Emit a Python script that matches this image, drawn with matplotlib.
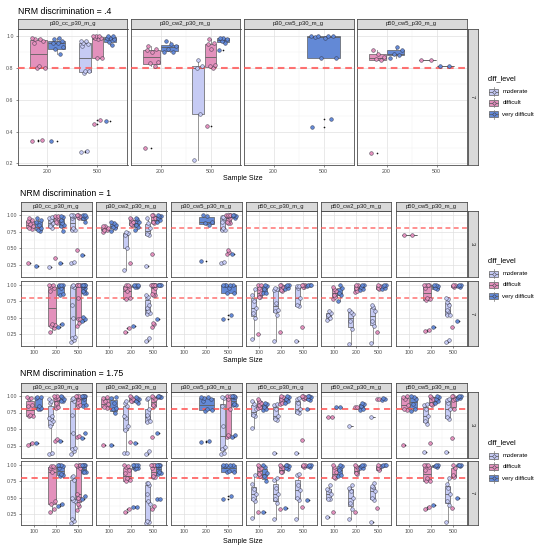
import numpy as np
import matplotlib
matplotlib.use("Agg")
import matplotlib.pyplot as plt
from matplotlib.patches import Rectangle

plt.rcParams['font.family'] = ['Liberation Sans', 'DejaVu Sans']

W, H = 538, 550

# ---------------- data ----------------
levels = ["moderate", "difficult", "very difficult"]
level_colors = {"moderate": "#C6CBF4", "difficult": "#E391BC", "very difficult": "#6389D6"}

sizes_s1 = ["200", "500"]
sizes_s23 = ["100", "200", "500"]
columns_s1 = ["p30_cc_p30_m_g", "p30_cw2_p30_m_g", "p30_cw5_p30_m_g", "p50_cw5_p30_m_g"]
columns_s23 = ["p30_cc_p30_m_g", "p30_cw2_p30_m_g", "p30_cw5_p30_m_g",
               "p50_cc_p30_m_g", "p50_cw2_p30_m_g", "p50_cw5_p30_m_g"]
rows_s1 = ["7"]
rows_s23 = ["3", "7"]
titles = ["NRM discrimination = .4", "NRM discrimination = 1", "NRM discrimination = 1.75"]
threshold = 0.8

# NRM discrimination = .4, row 7 (values per level, per sample size)
d04_r7_p30_cc = {
    "moderate": [[], [0.27, 0.28, 0.77, 0.78, 0.78, 0.94, 0.95, 0.96, 0.97, 0.97]],
    "difficult": [[0.34, 0.35, 0.80, 0.80, 0.81, 0.96, 0.97, 0.98, 0.98, 0.99],
                  [0.445, 0.475, 0.86, 0.86, 0.98, 0.99, 0.99, 1.0, 1.0, 1.0]],
    "very difficult": [[0.34, 0.89, 0.92, 0.93, 0.96, 0.96, 0.97, 0.98, 0.99],
                       [0.465, 0.947, 0.965, 0.98, 0.99, 0.99, 1.0, 1.0]],
}
d04_r7_p30_cw2 = {
    "moderate": [[], [0.22, 0.51, 0.80, 0.81, 0.85]],
    "difficult": [[0.30, 0.81, 0.83, 0.84, 0.90, 0.91, 0.92, 0.94],
                  [0.435, 0.80, 0.81, 0.82, 0.92, 0.95, 0.96, 0.98]],
    "very difficult": [[0.90, 0.90, 0.92, 0.94, 0.95, 0.97],
                       [0.915, 0.96, 0.97, 0.98, 0.99, 0.99]],
}
d04_r7_p30_cw5 = {
    "very difficult": [[], [0.43, 0.477, 0.86, 0.86, 0.99, 0.995, 1.0, 1.0, 1.0, 1.0]],
}
d04_r7_p50_cw5 = {
    "difficult": [[0.265, 0.85, 0.855, 0.87, 0.89, 0.915], [0.848, 0.848]],
    "very difficult": [[0.865, 0.88, 0.89, 0.91, 0.93], [0.81, 0.81]],
}

# NRM discrimination = 1, row 3
d1_r3_p30_cc = {
    "moderate": [[], [0.215, 0.80, 0.83, 0.88, 0.93, 0.96, 0.97],
                 [0.28, 0.29, 0.77, 0.78, 0.80, 0.95, 0.98, 0.99, 1.0, 1.0]],
    "difficult": [[0.285, 0.79, 0.81, 0.83, 0.87, 0.91, 0.93, 0.95],
                  [0.36, 0.88, 0.90, 0.95, 0.97, 0.985, 0.99],
                  [0.475, 0.96, 0.97, 0.99, 1.0, 1.0]],
    "very difficult": [[0.24, 0.76, 0.78, 0.80, 0.85, 0.90, 0.93, 0.95],
                       [0.285, 0.76, 0.84, 0.85, 0.88, 0.93, 0.97, 0.98],
                       [0.40, 0.90, 0.95, 0.97, 0.99, 1.0, 1.0]],
}
d1_r3_p30_cw2 = {
    "moderate": [[], [0.175, 0.50, 0.70, 0.725, 0.75], [0.24, 0.70, 0.72, 0.80, 0.885, 0.95]],
    "difficult": [[0.75, 0.77, 0.78, 0.80, 0.83, 0.84],
                  [0.285, 0.85, 0.86, 0.90, 0.935, 0.95],
                  [0.415, 0.875, 0.90, 0.95, 1.0, 1.0]],
    "very difficult": [[0.76, 0.80, 0.82, 0.85, 0.875, 0.90],
                       [0.78, 0.815, 0.85, 0.90, 0.935, 0.95],
                       [0.90, 0.92, 0.95, 0.98, 0.99, 1.0]],
}
d1_r3_p30_cw5 = {
    "moderate": [[], [], [0.28, 0.29, 0.775, 0.78, 0.80, 0.90, 0.95, 0.965, 0.97]],
    "difficult": [[], [], [0.42, 0.44, 0.47, 0.875, 0.88, 0.90, 0.95, 0.98, 0.99, 1.0, 1.0, 1.0, 1.0]],
    "very difficult": [[], [0.31, 0.85, 0.875, 0.90, 0.99, 1.0],
                       [0.415, 0.96, 0.98, 0.99, 1.0, 1.0]],
}
d1_r3_p50_cc = {}
d1_r3_p50_cw2 = {}
d1_r3_p50_cw5 = {
    "difficult": [[0.70, 0.70], [], []],
}

# NRM discrimination = 1, row 7
d1_r7_p30_cc = {
    "moderate": [[], [], [0.13, 0.17, 0.20, 0.21, 0.50, 0.70, 0.97, 0.98, 0.99]],
    "difficult": [[], [0.29, 0.34, 0.37, 0.39, 0.40, 0.90, 0.95, 0.98, 0.99, 1.0],
                  [0.37, 0.43, 0.48, 0.49, 0.80, 0.99, 1.0, 1.0, 1.0]],
    "very difficult": [[], [0.36, 0.40, 0.84, 0.86, 0.95, 0.98, 1.0, 1.0, 1.0],
                       [0.46, 0.49, 0.51, 0.87, 0.88, 0.90, 0.95, 0.97, 0.98, 0.99, 1.0, 1.0, 1.0, 1.0]],
}
d1_r7_p30_cw2 = {
    "moderate": [[], [], [0.15, 0.19, 0.56, 0.58, 0.60, 0.65, 0.70, 0.80, 0.82, 0.84]],
    "difficult": [[], [0.29, 0.35, 0.79, 0.80, 0.90, 0.95, 0.98, 1.0, 1.0],
                  [0.36, 0.40, 0.42, 0.84, 0.85, 0.86, 0.95, 0.99, 1.0, 1.0, 1.0, 1.0, 1.0]],
    "very difficult": [[], [0.37, 0.96, 0.97, 0.98, 0.99, 1.0, 1.0], [0.49, 1.0, 1.0, 1.0, 1.0]],
}
d1_r7_p30_cw5 = {
    "very difficult": [[], [], [0.49, 0.54, 0.87, 0.88, 0.95, 1.0, 1.0, 1.0, 1.0, 1.0]],
}
d1_r7_p50_cc = {
    "moderate": [[0.18, 0.50, 0.57, 0.65, 0.75, 0.84, 0.93],
                 [0.145, 0.55, 0.60, 0.62, 0.73, 0.92, 0.94, 0.95],
                 [0.145, 0.68, 0.69, 0.80, 0.95, 0.975, 0.98]],
    "difficult": [[0.25, 0.81, 0.82, 0.88, 0.95, 0.99, 1.0],
                  [0.29, 0.91, 0.92, 0.96, 0.99, 1.0],
                  [0.36, 0.96, 0.97, 0.99, 1.0, 1.0]],
    "very difficult": [[0.87, 0.88, 0.93, 0.98, 1.0], [0.93, 0.95, 0.98, 1.0, 1.0],
                       [0.98, 0.99, 1.0, 1.0]],
}
d1_r7_p50_cw2 = {
    "moderate": [[0.47, 0.50, 0.55, 0.57, 0.60], [0.11, 0.33, 0.45, 0.56, 0.59, 0.62],
                 [0.12, 0.37, 0.45, 0.60, 0.67, 0.70]],
    "difficult": [[0.79, 0.81, 0.85, 0.90, 0.94, 0.96], [0.89, 0.90, 0.95, 0.99, 1.0],
                  [0.29, 0.94, 0.95, 0.98, 1.0]],
    "very difficult": [[0.75, 0.84, 0.88, 0.95, 0.99], [0.92, 0.93, 0.97, 0.99, 1.0],
                       [0.94, 0.95, 0.98, 1.0, 1.0]],
}
d1_r7_p50_cw5 = {
    "moderate": [[], [], [0.14, 0.16, 0.54, 0.55, 0.60, 0.62, 0.70, 0.74, 0.78, 0.80]],
    "difficult": [[], [0.30, 0.31, 0.77, 0.78, 0.80, 0.95, 0.99, 1.0, 1.0, 1.0],
                  [0.36, 0.97, 0.98, 1.0, 1.0]],
    "very difficult": [[], [0.36, 0.93, 0.95, 0.98, 1.0, 1.0], [0.45, 0.97, 0.98, 1.0, 1.0]],
}

# NRM discrimination = 1.75, row 3
d175_r3_p30_cc = {
    "moderate": [[], [0.13, 0.15, 0.55, 0.62, 0.66, 0.67, 0.70, 0.90, 0.93, 0.95],
                 [0.13, 0.17, 0.20, 0.22, 0.45, 0.72, 0.93, 0.95, 0.97]],
    "difficult": [[0.27, 0.29, 0.70, 0.70, 0.72, 0.85, 0.86, 0.95, 0.97, 0.98],
                  [0.32, 0.36, 0.82, 0.84, 0.90, 0.95, 0.97, 0.99, 1.0, 1.0],
                  [0.38, 0.40, 0.85, 0.86, 0.95, 0.98, 0.99, 1.0, 1.0, 1.0]],
    "very difficult": [[0.29, 0.80, 0.80, 0.82, 0.85, 0.97, 0.98, 0.99],
                       [0.33, 0.92, 0.93, 0.95, 0.98, 1.0],
                       [0.37, 0.44, 0.85, 0.86, 0.95, 0.99, 1.0, 1.0, 1.0, 1.0]],
}
d175_r3_p30_cw2 = {
    "moderate": [[], [0.14, 0.15, 0.49, 0.55, 0.67, 0.70, 0.85, 0.90, 0.92],
                 [0.13, 0.17, 0.61, 0.63, 0.68, 0.72, 0.80, 0.95, 0.97]],
    "difficult": [[0.26, 0.82, 0.84, 0.88, 0.93, 0.97, 0.98],
                  [0.31, 0.92, 0.93, 0.96, 0.98, 1.0],
                  [0.38, 0.85, 0.87, 0.95, 0.99, 1.0]],
    "very difficult": [[0.26, 0.75, 0.80, 0.82, 0.90, 0.97, 0.99],
                       [0.30, 0.90, 0.92, 0.95, 0.97, 0.99],
                       [0.44, 0.98, 0.99, 0.99, 1.0, 1.0]],
}
d175_r3_p30_cw5 = {
    "moderate": [[], [], [0.13, 0.15, 0.21, 0.24, 0.55, 0.85, 0.97, 0.98]],
    "difficult": [[], [], [0.38, 0.40, 0.42, 0.80, 0.95, 1.0, 1.0]],
    "very difficult": [[], [0.31, 0.33, 0.78, 0.79, 0.80, 0.92, 0.95, 0.97, 0.98, 0.99],
                       [0.39, 0.42, 0.86, 0.87, 0.88, 0.98, 0.99, 1.0, 1.0, 1.0]],
}
d175_r3_p50_cc = {
    "moderate": [[0.52, 0.70, 0.72, 0.80, 0.88, 0.92], [0.14, 0.64, 0.66, 0.70, 0.80, 0.86, 0.88],
                 [0.14, 0.74, 0.76, 0.80, 0.90, 0.96, 0.97]],
    "difficult": [[0.82, 0.83, 0.86, 0.90, 0.93, 0.96], [0.88, 0.90, 0.95, 0.99, 1.0],
                  [0.34, 0.96, 0.97, 0.99, 1.0, 1.0]],
    "very difficult": [[0.79, 0.80, 0.84, 0.88, 0.90], [0.90, 0.92, 0.96, 0.99, 1.0],
                       [0.80, 0.94, 0.96, 0.99, 1.0, 1.0]],
}
d175_r3_p50_cw2 = {
    "moderate": [[], [0.545], [0.69]],
    "difficult": [[0.69, 0.69], [0.84, 0.84], [0.95, 0.95]],
    "very difficult": [[0.84, 0.84], [0.79, 0.80, 0.85, 0.88, 0.89], [0.94, 0.96, 0.97]],
}
d175_r3_p50_cw5 = {
    "moderate": [[], [0.155, 0.58, 0.63, 0.70, 0.80, 0.86, 0.88],
                 [0.155, 0.66, 0.69, 0.80, 0.90, 0.94, 0.96]],
    "difficult": [[0.27, 0.79, 0.81, 0.86, 0.95, 0.99, 1.0], [0.29, 0.86, 0.88, 0.95, 0.99, 1.0],
                  [0.37, 0.80, 0.94, 0.96, 1.0, 1.0]],
    "very difficult": [[0.78, 0.80, 0.88, 0.95, 0.99, 1.0], [0.90, 0.92, 0.96, 0.99, 1.0],
                       [0.95, 0.97, 0.99, 1.0, 1.0]],
}

# NRM discrimination = 1.75, row 7
d175_r7_p30_cc = {
    "moderate": [[], [], [0.10, 0.13, 0.17, 0.45, 0.46, 0.50, 0.77, 0.82, 0.84]],
    "difficult": [[], [0.28, 0.33, 0.40, 0.45, 0.90, 0.95, 0.97, 0.98, 0.99],
                  [0.31, 0.37, 0.40, 0.47, 0.50, 0.55, 0.95, 0.99, 1.0, 1.0, 1.0]],
    "very difficult": [[], [0.37, 0.40, 0.84, 0.85, 0.86, 0.95, 0.98, 1.0, 1.0, 1.0],
                       [0.47, 0.52, 0.89, 0.89, 0.90, 0.98, 1.0, 1.0, 1.0, 1.0]],
}
d175_r7_p30_cw2 = {
    "moderate": [[], [], [0.10, 0.12, 0.14, 0.40, 0.45, 0.55, 0.70, 0.72, 0.73]],
    "difficult": [[], [0.28, 0.33, 0.76, 0.77, 0.80, 0.88, 0.93, 0.97, 0.99, 1.0],
                  [0.33, 0.37, 0.81, 0.82, 0.83, 0.95, 1.0, 1.0, 1.0, 1.0]],
    "very difficult": [[], [0.35, 0.36, 0.94, 0.95, 0.96, 0.99, 1.0, 1.0, 1.0, 1.0],
                       [0.47, 0.48, 0.87, 0.88, 0.90, 0.99, 1.0, 1.0, 1.0, 1.0]],
}
d175_r7_p30_cw5 = {
    "very difficult": [[], [], [0.48, 0.53, 0.89, 0.90, 0.91, 0.99, 1.0, 1.0, 1.0, 1.0]],
}
d175_r7_p50_cc = {
    "moderate": [[0.18, 0.45, 0.47, 0.55, 0.63, 0.71, 0.85], [0.17, 0.42, 0.47, 0.55, 0.65, 0.77, 0.80],
                 [0.17, 0.46, 0.50, 0.62, 0.70, 0.85, 0.86]],
    "difficult": [[0.27, 0.84, 0.86, 0.95, 0.99, 1.0], [0.32, 0.89, 0.90, 0.95, 0.99, 1.0],
                  [0.36, 0.97, 0.98, 1.0, 1.0]],
    "very difficult": [[0.28, 0.76, 0.84, 0.88, 0.97, 1.0], [0.34, 0.94, 0.96, 0.99, 1.0, 1.0],
                       [0.46, 0.97, 0.98, 1.0, 1.0]],
}
d175_r7_p50_cw2 = {
    "moderate": [[0.195, 0.47, 0.48, 0.55, 0.62, 0.63, 0.70], [0.17, 0.33, 0.42, 0.50, 0.60, 0.65, 0.70],
                 [0.12, 0.46, 0.50, 0.60, 0.66, 0.68, 0.72]],
    "difficult": [[0.27, 0.80, 0.82, 0.90, 0.97, 1.0], [0.28, 0.87, 0.88, 0.95, 0.99, 1.0],
                  [0.34, 0.93, 0.95, 0.99, 1.0]],
    "very difficult": [[0.84, 0.85, 0.92, 0.99, 1.0], [0.95, 0.96, 0.98, 1.0, 1.0],
                       [0.99, 1.0, 1.0, 1.0]],
}
d175_r7_p50_cw5 = {
    "moderate": [[], [], [0.12, 0.38, 0.45, 0.55, 0.65, 0.71, 0.80]],
    "difficult": [[], [0.33, 0.35, 0.75, 0.76, 0.80, 0.92, 0.97, 1.0, 1.0, 1.0],
                  [0.34, 0.82, 0.85, 0.95, 1.0]],
    "very difficult": [[], [0.38, 0.97, 0.98, 1.0, 1.0], [0.50, 0.99, 1.0, 1.0, 1.0]],
}

s1_panels = [[d04_r7_p30_cc, d04_r7_p30_cw2, d04_r7_p30_cw5, d04_r7_p50_cw5]]
s2_panels = [[d1_r3_p30_cc, d1_r3_p30_cw2, d1_r3_p30_cw5, d1_r3_p50_cc, d1_r3_p50_cw2, d1_r3_p50_cw5],
             [d1_r7_p30_cc, d1_r7_p30_cw2, d1_r7_p30_cw5, d1_r7_p50_cc, d1_r7_p50_cw2, d1_r7_p50_cw5]]
s3_panels = [[d175_r3_p30_cc, d175_r3_p30_cw2, d175_r3_p30_cw5, d175_r3_p50_cc, d175_r3_p50_cw2, d175_r3_p50_cw5],
             [d175_r7_p30_cc, d175_r7_p30_cw2, d175_r7_p30_cw5, d175_r7_p50_cc, d175_r7_p50_cw2, d175_r7_p50_cw5]]

# ---------------- layout / style ----------------
EDGE = "#5f5f5f"
WHISK = "#7a7a7a"
BORDER = "#4d4d4d"
STRIP = "#D9D9D9"
JIT = np.array([-0.8, 0.5, -0.2, 0.9, 0.1, -0.6, 0.7, -0.4, 0.3, -0.9, 0.6, -0.1, 0.8, -0.5])

fig = plt.figure(figsize=(W / 100, H / 100), dpi=100)


def px_axes(x0, y0, x1, y1, **kw):
    return fig.add_axes([x0 / W, 1 - y1 / H, (x1 - x0) / W, (y1 - y0) / H], **kw)


def draw_panel(ax, data, sizes, ylim, yticks, yminor, ylabels, left, bottom, dash_lw):
    n = len(sizes)
    ax.set_xlim(-0.6, n - 1 + 0.6)
    ax.set_ylim(*ylim)
    ax.set_xticks(range(n))
    ax.set_xticks([k + 0.5 for k in range(n - 1)], minor=True)
    ax.set_xticklabels(sizes if bottom else [])
    ax.set_yticks(yticks)
    ax.set_yticks(yminor, minor=True)
    ax.set_yticklabels(ylabels if left else [])
    ax.grid(which='major', color='#E0E0E0', lw=0.5)
    ax.grid(which='minor', color='#EFEFEF', lw=0.35)
    ax.set_axisbelow(True)
    for s in ax.spines.values():
        s.set_color(BORDER)
        s.set_linewidth(0.6)
    ax.tick_params(which='minor', length=0)
    ax.tick_params(which='major', labelsize=3.8, length=1.6, width=0.4, color='#333333',
                   labelcolor='#4d4d4d', pad=1.2)
    ax.tick_params(axis='y', left=left)
    ax.tick_params(axis='x', bottom=bottom)
    for k in range(n):
        present = [lv for lv in levels if lv in data and len(data[lv][k]) > 0]
        m = len(present)
        for j, lv in enumerate(present):
            vals = np.array(data[lv][k], dtype=float)
            slot = 0.75 / m
            pos = k - 0.375 + (j + 0.5) * slot
            bw = slot * 0.9
            c = level_colors[lv]
            ax.boxplot([vals], positions=[pos], widths=[bw], patch_artist=True,
                       manage_ticks=False, showcaps=False, whis=1.5, zorder=2,
                       boxprops=dict(facecolor=c, edgecolor=EDGE, linewidth=0.5),
                       medianprops=dict(color=EDGE, linewidth=0.6),
                       whiskerprops=dict(color=WHISK, linewidth=0.55),
                       flierprops=dict(marker='o', markersize=1.2, markerfacecolor='#111111',
                                       markeredgecolor='#111111', markeredgewidth=0))
            offs = JIT[:len(vals)] * bw * 0.42
            ax.scatter(pos + offs, vals, s=7, c=c, edgecolors='#2a2a3a', linewidths=0.3, zorder=4)
    ax.axhline(threshold, color='#FF5A5A', alpha=0.85, lw=dash_lw, ls=(0, (3.2, 2.2)), zorder=3)


def strip_top(x0, x1, y0, y1, label, fs):
    a = px_axes(x0, y0, x1, y1)
    a.set_facecolor(STRIP)
    a.set_xticks([]); a.set_yticks([])
    for s in a.spines.values():
        s.set_color(BORDER); s.set_linewidth(0.6)
    a.text(0.5, 0.5, label, ha='center', va='center', fontsize=fs, color='#1a1a1a',
           transform=a.transAxes)


def strip_right(x0, x1, y0, y1, label, fs):
    a = px_axes(x0, y0, x1, y1)
    a.set_facecolor(STRIP)
    a.set_xticks([]); a.set_yticks([])
    for s in a.spines.values():
        s.set_color(BORDER); s.set_linewidth(0.6)
    a.text(0.5, 0.5, label, ha='center', va='center', fontsize=fs, color='#1a1a1a',
           rotation=-90, transform=a.transAxes)


sections = [
    dict(panels=s1_panels, cols=columns_s1, rows=rows_s1, sizes=sizes_s1,
         xs=[17.5 + i * 113 for i in range(4)], pw=110,
         strip=(19, 29), rowy=[(29, 165)], title_y=11, title_x=18,
         xlab_y=178.5, ylim=(0.19, 1.045),
         yt=[0.2, 0.4, 0.6, 0.8, 1.0], ym=[0.3, 0.5, 0.7, 0.9],
         yl=["0.2", "0.4", "0.6", "0.8", "1.0"], dash=1.5, leg_y=79),
    dict(panels=s2_panels, cols=columns_s23, rows=rows_s23, sizes=sizes_s23,
         xs=[21 + i * 75 for i in range(6)], pw=70.5,
         strip=(201.5, 210.5), rowy=[(210.5, 276.5), (280.5, 346)], title_y=193, title_x=20,
         xlab_y=360, ylim=(0.075, 1.065),
         yt=[0.25, 0.5, 0.75, 1.0], ym=[0.125, 0.375, 0.625, 0.875],
         yl=["0.25", "0.50", "0.75", "1.00"], dash=1.1, leg_y=261),
    dict(panels=s3_panels, cols=columns_s23, rows=rows_s23, sizes=sizes_s23,
         xs=[21 + i * 75 for i in range(6)], pw=70.5,
         strip=(382.5, 391.5), rowy=[(391.5, 457.5), (461, 525)], title_y=374, title_x=20,
         xlab_y=541.5, ylim=(0.075, 1.065),
         yt=[0.25, 0.5, 0.75, 1.0], ym=[0.125, 0.375, 0.625, 0.875],
         yl=["0.25", "0.50", "0.75", "1.00"], dash=1.4, leg_y=443),
]

over = fig.add_axes([0, 0, 1, 1], zorder=10)
over.set_xlim(0, W)
over.set_ylim(H, 0)
over.axis('off')

for si, sec in enumerate(sections):
    nrows = len(sec['rows'])
    ncols = len(sec['cols'])
    for r in range(nrows):
        y0, y1 = sec['rowy'][r]
        for c in range(ncols):
            x0 = sec['xs'][c]
            ax = px_axes(x0, y0, x0 + sec['pw'], y1)
            draw_panel(ax, sec['panels'][r][c], sec['sizes'], sec['ylim'], sec['yt'], sec['ym'],
                       sec['yl'], left=(c == 0), bottom=(r == nrows - 1), dash_lw=sec['dash'])
        strip_right(467.5, 477.5, y0, y1, sec['rows'][r], 4.2)
    for c in range(ncols):
        x0 = sec['xs'][c]
        strip_top(x0, x0 + sec['pw'], sec['strip'][0], sec['strip'][1], sec['cols'][c], 4.2)
    over.text(sec['title_x'], sec['title_y'], titles[si], fontsize=6.3,
              ha='left', va='center', color='black')
    over.text(243, sec['xlab_y'], "Sample Size", fontsize=5.0, ha='center', va='center',
              color='black')
    # legend
    ly = sec['leg_y']
    over.text(488, ly, "diff_level", fontsize=5.3, ha='left', va='center', color='black')
    for i, lv in enumerate(levels):
        cy = ly + 12.5 + i * 11.3
        over.plot([493.5, 493.5], [cy - 4.5, cy + 4.5], color=WHISK, lw=0.5)
        over.add_patch(Rectangle((489.3, cy - 3.0), 8.5, 6.0, facecolor=level_colors[lv],
                                 edgecolor=EDGE, lw=0.5))
        over.plot([489.3, 497.8], [cy, cy], color=EDGE, lw=0.55)
        over.scatter([493.5], [cy], s=5, c=level_colors[lv], edgecolors='#2a2a3a',
                     linewidths=0.3, zorder=5)
        over.text(502.5, cy, lv, fontsize=4.3, ha='left', va='center', color='black')

fig.savefig("out.png", dpi=100)
